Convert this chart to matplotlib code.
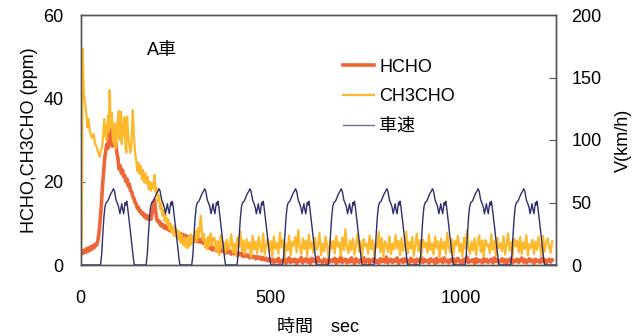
import numpy as np
import matplotlib
matplotlib.use("Agg")
import matplotlib.pyplot as plt

plt.rcParams['font.family'] = ['Liberation Sans', 'Noto Sans CJK JP', 'DejaVu Sans']

# ---- data ----
# HCHO (ppm), first part on an uneven time grid
hcho_t_early = [0, 3, 6, 9, 12, 15, 18, 21, 24, 27, 30, 33, 36, 39, 42, 45, 48, 51, 54, 57,
                60, 63, 66, 69, 72, 74, 76, 78, 80, 83, 86, 89, 92, 95, 98, 101, 104, 107, 110, 113,
                116, 119, 122, 125, 128, 131, 134, 137, 140, 143, 146, 149, 152, 155, 158, 161, 164, 167, 170, 173,
                176, 179, 182, 185, 188, 191, 194, 197, 200, 203, 206, 209, 212, 215, 218, 221, 224, 227, 230, 234,
                238, 242, 246, 250, 254, 258, 262, 266, 270, 274, 278, 282, 286, 290, 294, 298, 302, 306, 310, 314,
                318, 322, 326, 330, 334, 338, 342, 346, 348]
hcho_v_early = [2.5, 3.6, 2.8, 3.5, 3.0, 3.9, 3.2, 4.1, 3.5, 4.4, 3.8, 4.7, 4.2, 5.0, 4.8, 5.8, 7.5, 10.5, 14, 18.5,
                22, 25.5, 27.5, 29, 28, 30.5, 34.5, 29.5, 30.5, 28.5, 30, 28.8, 29.5, 27, 25.5, 23, 23.8, 22, 22.8, 21.2,
                21.5, 20.0, 20.6, 19.0, 19.4, 17.8, 17.6, 16.4, 16.0, 15.0, 14.6, 13.6, 13.8, 12.8, 13.0, 12.2, 12.5, 11.6, 12.0, 11.2,
                11.8, 10.9, 11.6, 11.0, 12.5, 14.0, 15.6, 13.0, 11.0, 10.4, 10.6, 9.6, 10.0, 9.2, 9.6, 8.8, 9.3, 8.6, 9.0, 8.2,
                8.8, 8.0, 8.6, 7.6, 8.0, 7.2, 7.6, 6.8, 7.3, 6.5, 7.0, 6.2, 6.8, 6.0, 6.6, 5.8, 6.4, 5.6, 6.3, 5.5,
                6.2, 5.2, 5.6, 4.6, 5.0, 4.0, 4.6, 3.6, 4.0]
# HCHO (ppm) from 352 s on, every 4 s
hcho_v_late = [4.2, 3.4, 4.0, 3.1, 3.9, 3.3, 3.6, 2.8, 3.5, 3.0,
               3.4, 2.6, 3.2, 2.7, 3.0, 2.3, 2.9, 2.4, 2.7, 2.0,
               2.6, 2.1, 2.4, 1.7, 2.3, 1.8, 2.1, 1.5, 2.0, 1.6,
               1.9, 1.3, 1.8, 1.2, 1.6, 1.0, 1.5, 0.9,
               1.4, 0.6, 1.2, 0.8, 1.6, 0.5, 1.1, 0.9, 1.5, 0.4,
               1.0, 1.7, 0.6, 1.3, 0.8, 1.4, 0.3, 1.2, 0.9, 1.8,
               0.5, 1.1, 1.5, 0.7, 1.3, 0.4, 1.6, 0.9, 1.2, 0.6,
               1.9, 0.8, 1.0, 0.5, 1.4, 1.1, 0.3, 1.5, 0.7, 1.2,
               0.9, 1.6, 0.4, 1.3, 0.8, 2.0, 0.6, 1.1, 1.4, 0.5,
               1.2, 0.7, 1.7, 0.9, 0.4, 1.5, 1.0, 0.6, 1.3, 0.8,
               1.8, 0.5, 1.1, 1.4, 0.3, 1.2, 0.9, 1.6, 0.6, 1.0,
               0.4, 1.5, 0.8, 1.3, 0.7, 1.9, 0.5, 1.1, 1.4, 0.6,
               1.2, 0.9, 1.7, 0.4, 1.0, 1.3, 0.6, 1.5, 0.8, 1.1,
               0.5, 1.6, 0.9, 1.2, 0.3, 1.4, 1.0, 0.7, 1.8, 0.6,
               1.3, 0.8, 1.1, 0.5, 1.5, 0.9, 1.2, 0.4, 1.6, 0.7,
               1.0, 1.4, 0.6, 1.7, 0.8, 1.1, 0.5, 1.3, 0.9, 1.5,
               0.4, 1.2, 1.6, 0.7, 1.0, 0.5, 1.4, 0.8, 1.9, 0.6,
               1.1, 0.9, 1.3, 0.4, 1.5, 0.7, 1.2, 1.0, 0.5, 1.6,
               0.8, 1.3, 0.6, 1.1, 1.4, 0.5, 1.7, 0.9, 1.2, 0.6,
               1.0, 1.5, 0.7, 1.3, 0.4, 1.2, 0.8, 1.6, 0.5, 1.1,
               0.9, 1.4, 0.6, 1.2, 1.7,
               0.7, 1.3, 0.5, 1.0, 1.5, 0.8, 1.2, 0.4, 1.4, 0.9,
               1.1, 0.6, 1.6, 0.8, 1.3, 0.5, 1.0, 1.4, 0.7, 1.2]

# CH3CHO (ppm)
ch3_t_early = [0, 3, 5, 7, 9, 12, 15, 18, 21, 24, 27, 30, 34, 38, 42, 46, 50, 53, 56, 59,
               62, 64, 66, 68, 70, 72, 74, 76, 78, 80, 82, 85, 88, 90, 92, 95, 98, 100, 102, 104,
               106, 108, 110, 112, 115, 118, 120, 122, 125, 128, 130, 133, 135, 137, 140, 143, 146, 149, 152, 155,
               158, 161, 164, 167, 170, 173, 176, 179, 182, 185, 188, 191, 194, 197, 200, 203, 206, 209, 212, 215,
               218, 221, 224, 227, 230, 233, 236, 239, 242, 245, 248, 251, 254, 257, 260, 263, 266, 269, 272, 275,
               278, 281, 284, 287, 290, 293, 296, 299, 302, 305, 308, 311, 314, 316, 318, 321, 324, 327, 330, 333,
               336, 339, 342, 345, 348]
ch3_v_early = [0.5, 8, 52, 45, 40, 38.5, 36, 33, 35, 32, 31, 30.5, 31.5, 29, 28.4, 27, 26, 27.5, 28, 31,
               35, 31, 33.5, 30, 32, 36, 32, 42, 37, 33, 36.5, 30, 29, 34, 28, 31, 36, 37, 30, 32,
               36.8, 29, 34, 31, 35.5, 28, 27, 35.6, 31, 29, 27, 28, 33, 37.2, 31, 27, 25.2, 22.5, 24.5, 21.8,
               23.8, 20.5, 22.8, 19.8, 22.0, 19.5, 21.2, 18.2, 20.0, 17.8, 19.6, 18.5, 21.6, 17.5, 18.5, 15.2, 16.8, 13.5, 14.8, 11.8,
               13.2, 10.6, 12.0, 9.8, 11.0, 8.6, 10.0, 7.8, 9.2, 7.0, 9.4, 6.8, 8.4, 6.2, 7.8, 5.4, 7.2, 4.8, 6.6, 4.4,
               6.4, 4.0, 6.8, 4.6, 7.4, 5.0, 7.0, 5.6, 8.0, 5.8, 8.8, 6.6, 10.0, 11.8, 9.0, 6.0, 7.4, 4.2, 6.2, 3.8,
               6.8, 4.6, 7.6, 4.8, 6.4]
ch3_v_late = [6.5, 3.2, 5.8, 2.4, 7.2, 4.1, 5.5, 2.9, 6.1, 3.6,
              4.8, 7.4, 3.0, 5.2, 2.2, 6.6, 4.4, 8.1, 3.3, 5.9,
              2.6, 6.2, 4.0, 5.4, 1.8, 7.0, 3.7, 5.6, 2.8, 6.8,
              4.5, 3.1, 7.6, 2.5, 5.0, 6.3, 3.4, 5.7, 2.0, 6.9,
              3.9, 5.3, 2.7, 7.8, 4.2, 6.0, 1.9, 5.1, 3.5, 7.1,
              2.3, 5.6, 4.6, 6.7, 3.0, 8.4, 4.3, 2.6, 6.4, 3.8,
              5.9, 2.1, 7.3, 4.0, 5.5, 2.9, 6.5, 3.6, 4.9, 7.7,
              2.4, 5.2, 3.3, 6.8, 4.7, 1.7, 6.1, 3.9, 5.8, 2.8,
              7.0, 4.4, 5.4, 2.2, 6.6, 3.5, 8.6, 4.1, 2.9, 5.9,
              3.6, 6.3, 2.5, 5.0, 7.4, 3.2, 5.6, 1.9, 6.2, 4.5,
              5.1, 2.7, 7.1, 3.8, 6.0, 2.3, 5.3, 4.2, 7.9, 3.0,
              6.4, 2.0, 5.7, 4.6, 3.1, 6.9, 2.6, 5.2, 3.7, 7.2,
              4.0, 5.8, 2.4, 6.5, 3.4, 5.0, 8.0, 2.8, 5.5, 3.9,
              6.7, 2.2, 4.8, 7.5, 3.3, 5.9, 2.0, 6.1, 4.3, 5.4,
              2.9, 7.3, 3.6, 5.2, 2.5, 6.8, 4.1, 5.7, 1.8, 6.3,
              3.8, 5.5, 2.6, 7.7, 4.4, 3.0, 6.2, 2.3, 5.8, 4.7,
              7.0, 3.2, 5.1, 2.1, 6.6, 3.9, 8.3, 4.2, 2.7, 5.6,
              3.5, 6.4, 2.4, 5.3, 7.1, 3.1, 5.9, 2.0, 6.0, 4.6,
              5.0, 2.8, 7.4, 3.7, 5.7, 2.2, 6.5, 4.0, 5.2, 3.3,
              6.9, 2.5, 4.9, 7.6, 3.4, 5.5, 1.9, 6.3, 4.5, 5.8,
              3.0, 6.7, 2.6, 5.4, 3.9, 7.2, 2.3, 5.0, 4.1, 6.1,
              2.7, 5.6, 3.6, 6.8, 4.4, 2.1, 7.0, 3.2, 5.3, 6.4,
              4.2, 2.9, 5.7]
late_t = list(range(352, 1241, 4))

# vehicle speed: one drive cycle (offset s, km/h), repeated at these start times
cycle_t = [0, 3, 6, 9, 12, 15, 19, 23, 27, 31, 34, 37, 41, 45, 48, 51, 54, 56, 58, 61,
           63, 65, 67, 69, 71, 73, 76, 80, 84, 87, 89]
cycle_v = [0, 8, 24, 38, 47, 50, 51, 54, 57, 59, 61, 59, 52, 49, 46, 41, 46, 49, 45, 41,
           46, 50, 48, 51, 47, 42, 34, 23, 12, 4, 0]
cycle_starts = [52, 172, 292, 411, 531, 651, 771, 891, 1011, 1131]

hcho_t = hcho_t_early + late_t
hcho_v = hcho_v_early + hcho_v_late
ch3_t = ch3_t_early + late_t
ch3_v = ch3_v_early + ch3_v_late

speed_t = [0]
speed_v = [0]
for s in cycle_starts:
    speed_t += [s + o for o in cycle_t]
    speed_v += cycle_v
speed_t.append(1250)
speed_v.append(0)

# ---- plot ----
fig = plt.figure(figsize=(6.4, 3.36), dpi=100)
ax = fig.add_axes([80.7 / 640, 71 / 336, 475.3 / 640, 250 / 336])
ax2 = ax.twinx()

l1, = ax.plot(hcho_t, hcho_v, color='#ef6636', lw=2.6, label='HCHO', zorder=2)
l2, = ax.plot(ch3_t, ch3_v, color='#fdb92b', lw=1.6, label='CH3CHO', zorder=3)
l3, = ax2.plot(speed_t, speed_v, color='#2d2f6e', lw=1.0, label='車速')

ax.set_xlim(0, 1250)
ax.set_ylim(0, 60)
ax2.set_ylim(0, 200)
ax.set_xticks([0, 500, 1000])
ax.set_yticks([0, 20, 40, 60])
ax2.set_yticks([0, 50, 100, 150, 200])

fs = 13
ax.tick_params(axis='x', direction='in', length=0, pad=18, labelsize=fs)
ax.tick_params(axis='y', direction='in', length=3, pad=12.5, labelsize=fs, color='#555555')
ax2.tick_params(axis='y', direction='in', length=5, pad=11, labelsize=fs, color='#555555')
for a in (ax, ax2):
    for sp in a.spines.values():
        sp.set_color('#555555')
        sp.set_linewidth(1.0)

ax.set_xlabel('時間\u3000sec', fontsize=fs)
ax.set_ylabel('HCHO,CH3CHO (ppm)', fontsize=fs)
ax2.set_ylabel('V(km/h)', fontsize=fs)
ax.xaxis.set_label_coords(0.5, -0.215)
ax.yaxis.set_label_coords(-0.09, 0.5)
ax2.yaxis.set_label_coords(1.125, 0.5)

ax.text(175, 51.6, 'A車', fontsize=fs, va='center', ha='left')

leg = ax.legend(handles=[l1, l2, l3], loc='upper left', bbox_to_anchor=(0.552, 0.825),
                frameon=False, fontsize=fs, handlelength=1.7, handletextpad=0.3,
                labelspacing=0.7, borderpad=0, borderaxespad=0)
leg.get_lines()[2].set_color('#6f7099')

fig.savefig('out.png', dpi=100)
